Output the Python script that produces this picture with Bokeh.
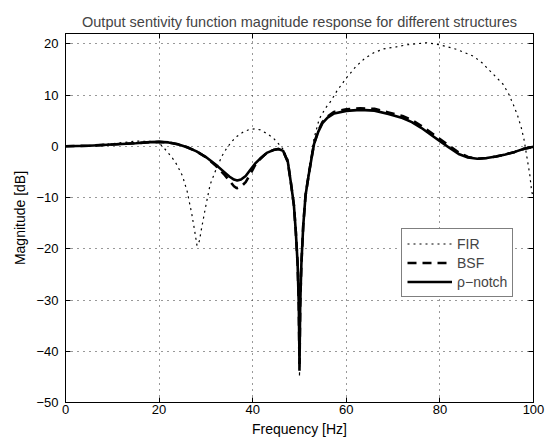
from bokeh.plotting import figure
from bokeh.models import Range1d, LinearAxis, FixedTicker, Legend, LegendItem, CustomJSTickFormatter
from bokeh.embed import file_html
from bokeh.resources import INLINE

# ---- data ----
notch_f = [0, 5, 10, 15, 18, 20, 22, 24, 26, 28, 30, 32, 34, 35, 36, 36.7, 37.5, 38.5, 39.5, 40.5,
           41.6, 43, 44.4, 45.5, 46.5, 47.5, 48.2, 48.8, 49.2, 49.6, 49.85, 50, 50.15, 50.4, 50.8,
           51.3, 52, 52.6, 53.1, 54, 54.9, 56, 57.4, 60, 63, 66, 69, 72, 74, 76, 78, 80, 82, 84,
           86, 88, 90, 92, 94, 96, 98, 100]
notch_db = [0, 0.1, 0.35, 0.6, 0.8, 0.85, 0.75, 0.4, -0.2, -1.0, -2.1, -3.5, -5.1, -5.9, -6.5, -6.7,
            -6.5, -5.8, -4.6, -3.4, -2.4, -1.3, -0.75, -0.55, -0.9, -3.0, -7.4, -11.5, -16.5, -23,
            -31, -42.5, -31, -23, -15.5, -9.5, -5.4, -2.2, 0.4, 2.8, 4.5, 5.6, 6.4, 6.9, 7.1, 6.95,
            6.3, 5.5, 4.7, 3.6, 2.3, 1.0, -0.3, -1.5, -2.2, -2.45, -2.3, -2.0, -1.6, -1.1, -0.5, -0.1]

bsf_f = [0, 5, 10, 15, 18, 20, 22, 24, 26, 28, 30, 32, 34, 35, 36, 36.6, 37.5, 38.5, 39.5, 40.5,
         41.6, 43, 44.4, 45.5, 46.5, 47.5, 48.2, 48.8, 49.2, 49.6, 49.85, 50, 50.15, 50.4, 50.8,
         51.3, 52, 52.6, 53.1, 54, 54.9, 56, 57.4, 60, 63, 66, 69, 72, 74, 76, 78, 80, 82, 84,
         86, 88, 90, 92, 94, 96, 98, 100]
bsf_db = [0, 0.1, 0.35, 0.6, 0.8, 0.85, 0.75, 0.4, -0.2, -1.0, -2.1, -3.7, -5.6, -6.7, -7.8, -8.2,
          -7.9, -7.0, -5.4, -3.7, -2.5, -1.3, -0.75, -0.55, -0.9, -3.0, -7.4, -11.5, -16.5, -23,
          -31, -44.0, -31, -23, -15.5, -9.5, -5.4, -2.1, 0.5, 3.0, 4.7, 5.8, 6.7, 7.2, 7.4, 7.3,
          6.6, 5.9, 5.1, 4.0, 2.7, 1.4, 0.1, -1.2, -2.1, -2.45, -2.3, -2.0, -1.6, -1.1, -0.5, -0.1]

fir_f = [0, 5, 10, 15, 18, 20, 21.7, 23, 23.8, 25, 26, 27, 27.6, 28.1, 28.6, 29.1, 29.9, 30.9, 32.3,
         33.5, 34.5, 35.5, 36.6, 38, 39.4, 40.5, 41.6, 43, 44.4, 45.5, 46.5, 47.5, 48.2, 48.8, 49.2,
         49.6, 49.85, 50, 50.15, 50.4, 50.8, 51.3, 52, 52.6, 53.1, 54.2, 55.6, 56.7, 58, 60, 62, 64,
         66, 68, 70.7, 73, 75, 77.2, 80, 83.6, 87.1, 89, 90.7, 92, 93.5, 94.7, 95.7, 96.6, 97.4, 98,
         98.5, 99.2, 99.6, 100]
fir_db = [0, 0.15, 0.5, 1.0, 0.95, 0.65, -1.0, -2.5, -3.6, -5.8, -8.8, -13.3, -16.5, -19.4, -18.5,
          -15.9, -12, -7.5, -4.2, -1.8, -0.3, 0.9, 1.9, 2.8, 3.3, 3.4, 3.2, 2.5, 1.6, 0.5, -0.6, -2.5,
          -7, -11.5, -16.5, -23, -31, -45, -31, -23, -15, -9, -4.5, -1.2, 1.5, 5.3, 7.5, 8.8, 10.8,
          13.3, 15.5, 17.2, 18.3, 19.0, 19.4, 19.8, 20.0, 20.2, 19.8, 18.9, 17.6, 16.3, 14.7, 13.5,
          12.1, 10.2, 8.1, 6.0, 3.6, 1.2, -1.6, -5.5, -8.8, -10]

x_ticks = [0, 20, 40, 60, 80, 100]
y_ticks = [-50, -40, -30, -20, -10, 0, 10, 20]
y_tick_labels = {-50: "\u221250", -40: "\u221240", -30: "\u221230", -20: "\u221220",
                 -10: "\u221210", 0: "0", 10: "10", 20: "20"}

FONT = "Liberation Sans"

p = figure(width=559, height=442, output_backend="svg", toolbar_location=None,
           x_range=Range1d(0, 100), y_range=Range1d(-50, 22),
           title="Output sentivity function magnitude response for different structures",
           min_border_left=65, min_border_right=26, min_border_top=33, min_border_bottom=40)

p.title.text_font = FONT
p.title.text_font_size = "14.5px"
p.title.text_font_style = "normal"
p.title.align = "center"
p.title.standoff = 7

p.outline_line_color = "black"
p.outline_line_width = 1

for ax, ticks in ((p.xaxis[0], x_ticks), (p.yaxis[0], y_ticks)):
    ax.ticker = FixedTicker(ticks=ticks)
    ax.major_tick_in = 5
    ax.major_tick_out = 0
    ax.minor_tick_line_color = None
    ax.axis_line_color = "black"
    ax.major_tick_line_color = "black"
    ax.major_label_text_font = FONT
    ax.major_label_text_font_size = "13px"
    ax.major_label_text_color = "black"
    ax.axis_label_text_font = FONT
    ax.axis_label_text_font_size = "14px"
    ax.axis_label_text_font_style = "normal"
    ax.axis_label_text_color = "black"

p.xaxis.axis_label = "Frequency [Hz]"
p.xaxis.major_label_standoff = 2
p.xaxis.axis_label_standoff = 4
p.yaxis.axis_label = "Magnitude [dB]"
p.yaxis.major_label_standoff = 7
p.yaxis.axis_label_standoff = 5
p.yaxis.major_label_overrides = y_tick_labels

# box ticks on top / right
blank = CustomJSTickFormatter(code="return ''")
for loc, ticks in (("right", y_ticks), ("above", x_ticks)):
    ax = LinearAxis(ticker=FixedTicker(ticks=ticks), formatter=blank,
                    major_tick_in=5, major_tick_out=0, minor_tick_line_color=None,
                    major_label_standoff=0, major_label_text_font_size="1px",
                    axis_line_color="black", major_tick_line_color="black")
    p.add_layout(ax, loc)

for g, ticks in ((p.xgrid[0], x_ticks), (p.ygrid[0], y_ticks)):
    g.ticker = FixedTicker(ticks=ticks)
    g.grid_line_color = "#333333"
    g.grid_line_dash = "1 5"
    g.grid_line_width = 1

r_fir = p.line(fir_f, fir_db, line_color="black", line_width=1.2, line_dash="2 4")
r_bsf = p.line(bsf_f, bsf_db, line_color="black", line_width=2.6, line_dash="9 6")
r_notch = p.line(notch_f, notch_db, line_color="black", line_width=2.6)

legend = Legend(items=[LegendItem(label="FIR", renderers=[r_fir]),
                       LegendItem(label="BSF", renderers=[r_bsf]),
                       LegendItem(label="\u03c1\u2212notch", renderers=[r_notch])],
                location=(336, 105), orientation="vertical")
legend.label_text_font = FONT
legend.label_text_font_size = "14px"
legend.label_height = 19
legend.glyph_height = 19
legend.glyph_width = 45
legend.label_standoff = 5
legend.spacing = 0
legend.padding = 5
legend.margin = 0
legend.border_line_color = "black"
legend.border_line_width = 1
legend.background_fill_color = "white"
legend.background_fill_alpha = 1
p.add_layout(legend, "center")

open("out.html", "w").write(file_html(p, INLINE))
